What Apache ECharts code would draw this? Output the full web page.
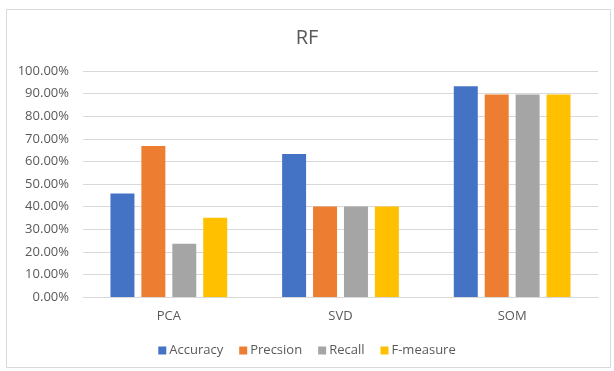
<!DOCTYPE html>
<html>
<head>
<meta charset="utf-8">
<script src="https://cdn.jsdelivr.net/npm/echarts@6/dist/echarts.min.js"></script>
<style>
html,body{margin:0;padding:0;background:#fff;}
#c{width:614px;height:371px;}
</style>
</head>
<body>
<div id="c"></div>
<script>
const categories = ['PCA', 'SVD', 'SOM'];
const seriesNames = ['Accuracy', 'Precsion', 'Recall', 'F-measure'];
const accuracy = [45.8, 63.3, 93.3];
const precision = [66.8, 40.0, 89.6];
const recall = [23.6, 40.0, 89.6];
const fmeasure = [35.1, 40.0, 89.6];
const colors = ['#4472C4', '#ED7D31', '#A5A5A5', '#FFC000'];
const values = [accuracy, precision, recall, fmeasure];

const chart = echarts.init(document.getElementById('c'));
chart.setOption({
  animation: false,
  backgroundColor: '#fff',
  title: {
    text: 'RF', left: 'center', top: 23,
    textStyle: {fontFamily: 'Open Sans', fontSize: 20, fontWeight: 'normal', color: '#595959'}
  },
  graphic: [{
    type: 'rect', left: 4, top: 7, z: -1, silent: true,
    shape: {width: 604, height: 358},
    style: {fill: 'none', stroke: '#D9D9D9', lineWidth: 1}
  }],
  legend: {
    bottom: 9, left: 'center', itemWidth: 8, itemHeight: 8, itemGap: 16,
    icon: 'rect',
    textStyle: {fontFamily: 'Open Sans', fontSize: 13, color: '#595959', padding: [0, 0, 0, -2]},
    data: seriesNames
  },
  grid: {left: 83, right: 16, top: 71, bottom: 74},
  xAxis: {
    type: 'category', data: categories,
    axisLine: {lineStyle: {color: '#D9D9D9'}},
    axisTick: {show: false},
    axisLabel: {fontFamily: 'Open Sans', fontSize: 13, color: '#595959', margin: 13}
  },
  yAxis: {
    type: 'value', min: 0, max: 100, interval: 10,
    axisLine: {show: false}, axisTick: {show: false},
    splitLine: {lineStyle: {color: '#D9D9D9'}},
    axisLabel: {fontFamily: 'Open Sans', fontSize: 13, color: '#595959', margin: 14,
      formatter: v => v.toFixed(2) + '%'}
  },
  series: seriesNames.map((n, i) => ({
    name: n, type: 'bar', data: values[i],
    itemStyle: {color: colors[i]},
    barGap: '29%', barCategoryGap: '32%'
  }))
});
</script>
</body>
</html>
